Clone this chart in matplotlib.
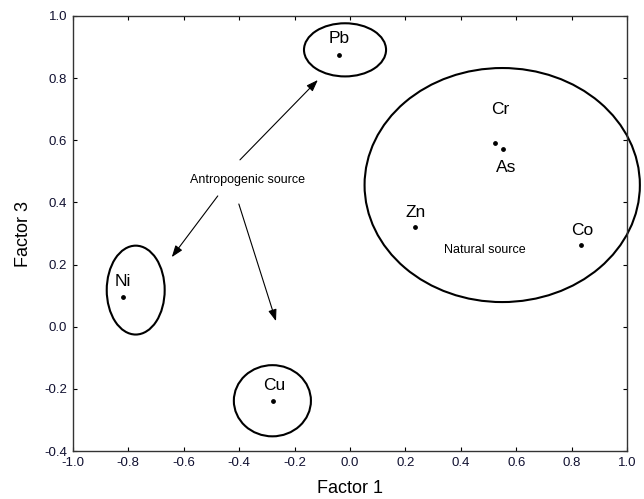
import matplotlib
matplotlib.use("Agg")
import matplotlib.pyplot as plt
from matplotlib.patches import Ellipse

plt.rcParams['font.family'] = ['Liberation Sans', 'DejaVu Sans']

elements = ["Pb", "Cr", "As", "Zn", "Co", "Ni", "Cu"]
factor1 = [-0.04, 0.523, 0.552, 0.235, 0.834, -0.82, -0.278]
factor3 = [0.875, 0.591, 0.572, 0.321, 0.263, 0.096, -0.239]
label_offsets = {"Pb": (0, 6), "Cr": (4, 19), "As": (2, -8), "Zn": (0, 5),
                 "Co": (1, 5), "Ni": (0, 6), "Cu": (1, 6)}

# group ellipses: center x, center y, width, height
ell_cx = [-0.018, 0.549, -0.773, -0.280]
ell_cy = [0.891, 0.456, 0.118, -0.238]
ell_w = [0.296, 0.993, 0.209, 0.278]
ell_h = [0.171, 0.753, 0.286, 0.229]

fig = plt.figure(figsize=(6.44, 4.99), dpi=100)
ax = fig.add_axes([0.113, 0.096, 0.861, 0.872])

ax.scatter(factor1, factor3, s=6, color='black', zorder=3)
for name, x, y in zip(elements, factor1, factor3):
    dx, dy = label_offsets[name]
    va = 'bottom' if dy > 0 else 'top'
    ax.annotate(name, (x, y), xytext=(dx, dy), textcoords='offset points',
                ha='center', va=va, fontsize=12.5)

for cx, cy, w, h in zip(ell_cx, ell_cy, ell_w, ell_h):
    ax.add_patch(Ellipse((cx, cy), w, h, fill=False, edgecolor='black',
                         linewidth=1.5, clip_on=False))

ax.text(-0.368, 0.472, "Antropogenic source", ha='center', va='center', fontsize=9)
ax.text(0.487, 0.247, "Natural source", ha='center', va='center', fontsize=9)

arrows = [((-0.397, 0.537), (-0.116, 0.794)),
          ((-0.477, 0.421), (-0.643, 0.224)),
          ((-0.401, 0.395), (-0.267, 0.018))]
for start, end in arrows:
    ax.annotate("", xy=end, xytext=start,
                arrowprops=dict(arrowstyle='-|>,head_length=0.5,head_width=0.18',
                                color='black', lw=0.8,
                                mutation_scale=14, shrinkA=0, shrinkB=0))

ax.set_xlim(-1.0, 1.0)
ax.set_ylim(-0.4, 1.0)
ax.set_xticks([-1.0, -0.8, -0.6, -0.4, -0.2, 0.0, 0.2, 0.4, 0.6, 0.8, 1.0])
ax.set_yticks([-0.4, -0.2, 0.0, 0.2, 0.4, 0.6, 0.8, 1.0])
ax.xaxis.set_major_formatter(matplotlib.ticker.FormatStrFormatter('%.1f'))
ax.yaxis.set_major_formatter(matplotlib.ticker.FormatStrFormatter('%.1f'))
ax.tick_params(direction='in', length=3, width=0.8, labelsize=9.5,
               top=True, right=True, pad=4, labelcolor='#101030')
for s in ax.spines.values():
    s.set_linewidth(1.0)
    s.set_color('#333333')

ax.set_xlabel("Factor 1", fontsize=13, labelpad=8)
ax.set_ylabel("Factor 3", fontsize=13, labelpad=9)

fig.savefig("out.png", dpi=100)
